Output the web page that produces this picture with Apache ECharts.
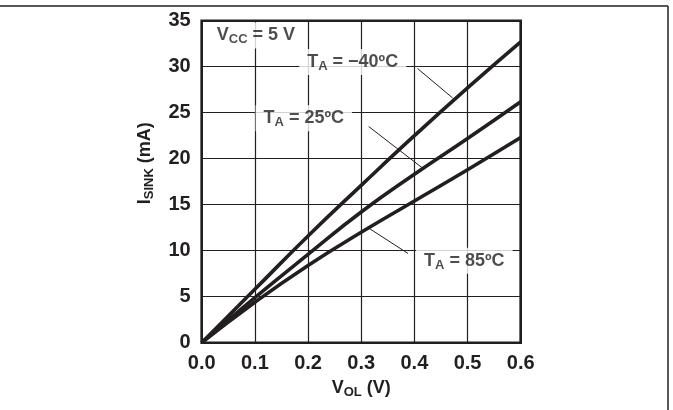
<!DOCTYPE html>
<html>
<head>
<meta charset="utf-8">
<script src="https://cdn.jsdelivr.net/npm/echarts@6/dist/echarts.min.js"></script>
<style>
html,body{margin:0;padding:0;background:#fff;}
#c{width:673px;height:410px;}
</style>
</head>
<body>
<div id="c"></div>
<script>
// ---- data ----
const vol = [0, 0.1, 0.2, 0.3, 0.4, 0.5, 0.6];
const sinkM40 = [0, 5.8, 11.6, 17.1, 22.5, 27.7, 32.7];
const sink25 = [0, 4.9, 9.6, 14.2, 18.3, 22.2, 26.2];
const sink85 = [0, 4.4, 8.4, 12.0, 15.4, 18.8, 22.3];
const seriesNames = ['TA = -40°C', 'TA = 25°C', 'TA = 85°C'];
const xTicks = [0, 0.1, 0.2, 0.3, 0.4, 0.5, 0.6];
const yTicks = [0, 5, 10, 15, 20, 25, 30, 35];

// annotation texts and their anchor points (data coordinates)
const annoText = [
  '{m|V}{s|CC}{m| = 5 V}',
  '{m|T}{s|A}{m| = \u221240\u00BAC}',
  '{m|T}{s|A}{m| = 25\u00BAC}',
  '{m|T}{s|A}{m| = 85\u00BAC}'
];
const annoAt = [[0.102, 33.4], [0.284, 30.5], [0.192, 24.4], [0.494, 8.9]];
// leader lines from labels to curves (data coordinates)
const leaders = [
  [[0.406, 29.8], [0.472, 26.6]],
  [[0.314, 23.5], [0.415, 19.0]],
  [[0.313, 12.5], [0.388, 9.7]]
];

const FONT = 'Liberation Sans, Arial, Helvetica, sans-serif';
const INK = '#231f20';

const curves = [sinkM40, sink25, sink85];
const chart = echarts.init(document.getElementById('c'), null, {renderer: 'canvas'});

const richLbl = {
  m: {fontSize: 18, fontWeight: 'bold', fontFamily: FONT, color: INK, lineHeight: 22},
  s: {fontSize: 13, fontWeight: 'bold', fontFamily: FONT, color: INK, lineHeight: 12, verticalAlign: 'bottom'}
};
const richAxis = {
  m: {fontSize: 18, fontWeight: 'bold', fontFamily: FONT, color: INK, lineHeight: 22},
  s: {fontSize: 13, fontWeight: 'bold', fontFamily: FONT, color: INK, lineHeight: 13, verticalAlign: 'bottom'}
};

const series = curves.map((arr, i) => ({
  type: 'line',
  name: seriesNames[i],
  data: vol.map((v, k) => [v, arr[k]]),
  smooth: 0.5,
  symbol: 'none',
  lineStyle: {color: INK, width: 3.6},
  z: 5
}));

leaders.forEach(seg => series.push({
  type: 'line',
  data: seg,
  symbol: 'none',
  lineStyle: {color: INK, width: 1},
  z: 4
}));

series.push({
  type: 'scatter',
  symbolSize: 1,
  itemStyle: {color: 'rgba(0,0,0,0)'},
  z: 6,
  data: annoAt.map((p, i) => ({
    value: p,
    label: {
      show: true,
      position: 'inside',
      formatter: annoText[i],
      rich: richLbl,
      backgroundColor: '#fff',
      padding: i === 0 ? [2, 2, 2, 2] : [2, 8, 2, 8]
    }
  }))
});

chart.setOption({
  animation: false,
  backgroundColor: '#fff',
  grid: {
    left: 201.7, right: 152.3, top: 20.7, bottom: 67.3,
    show: true, borderColor: INK, borderWidth: 2.6, backgroundColor: 'transparent'
  },
  xAxis: {
    type: 'value', min: xTicks[0], max: xTicks[xTicks.length - 1], interval: 0.1,
    axisLine: {show: false},
    axisTick: {show: false},
    splitLine: {show: true, lineStyle: {color: INK, width: 1.2}},
    axisLabel: {
      margin: 11, fontSize: 20, fontWeight: 'bold', fontFamily: FONT, color: INK,
      formatter: v => v.toFixed(1)
    },
    name: '{m|V}{s|OL}{m| (V)}',
    nameLocation: 'middle',
    nameGap: 30,
    nameTextStyle: {rich: richAxis}
  },
  yAxis: {
    type: 'value', min: yTicks[0], max: yTicks[yTicks.length - 1], interval: 5,
    axisLine: {show: false},
    axisTick: {show: false},
    splitLine: {show: true, lineStyle: {color: INK, width: 1.2}},
    axisLabel: {
      margin: 11, fontSize: 20, fontWeight: 'bold', fontFamily: FONT, color: INK
    },
    name: '{m|I}{s|SINK}{m| (mA)}',
    nameLocation: 'middle',
    nameGap: 46,
    nameTextStyle: {rich: richAxis, padding: [0, 0, 0, 37]}
  },
  graphic: [
    {type: 'line', shape: {x1: 0, y1: 6, x2: 668, y2: 6}, style: {stroke: INK, lineWidth: 1.5}, silent: true},
    {type: 'line', shape: {x1: 668, y1: 6, x2: 668, y2: 410}, style: {stroke: INK, lineWidth: 1.5}, silent: true}
  ],
  series: series
});
</script>
</body>
</html>
